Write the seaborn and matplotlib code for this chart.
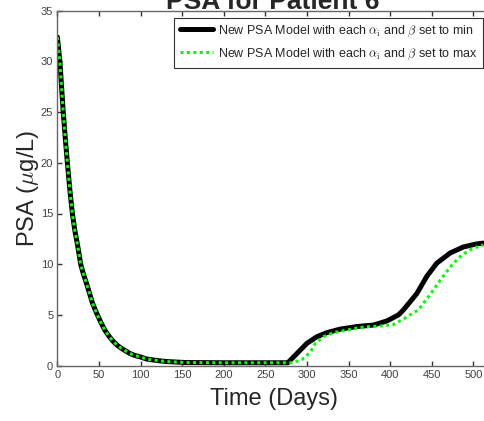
import numpy as np
import pandas as pd
import matplotlib
matplotlib.use("Agg")
import matplotlib.pyplot as plt
import seaborn as sns

# --- values ------------------------------------------------------------------
decay_t = [0, 1.5, 3, 5, 7, 9.5, 12, 15, 18, 21, 24, 28, 31, 35, 38, 42, 47,
           52, 57, 62, 67, 72, 77, 82, 87, 93, 100, 107, 120, 131, 155, 200, 250]
decay_v = [32.4, 31.2, 30.0, 27.5, 25.0, 22.4, 20.0, 17.3, 15.0, 13.3, 12.0,
           10.0, 9.1, 8.1, 7.3, 6.2, 5.2, 4.3, 3.5, 2.9, 2.4, 2.0, 1.7, 1.45,
           1.2, 1.0, 0.85, 0.65, 0.5, 0.4, 0.3, 0.28, 0.28]

min_t = [277, 288, 300, 312, 324, 340, 360, 380, 396, 410, 416, 432, 444, 456,
         472, 488, 504, 514]
min_v = [0.28, 1.2, 2.2, 2.85, 3.25, 3.6, 3.85, 4.0, 4.4, 5.0, 5.5, 7.1, 8.8,
         10.1, 11.1, 11.7, 12.0, 12.1]

max_t = [282, 294, 304, 310, 320, 332, 348, 368, 388, 404, 418, 434, 448, 460,
         474, 486, 498, 512]
max_v = [0.28, 0.6, 1.3, 2.2, 2.85, 3.25, 3.5, 3.8, 3.9, 4.05, 4.7, 5.5, 7.0,
         8.4, 9.9, 10.9, 11.5, 11.9]

labels = [r"New PSA Model with each $\alpha_{\rm i}$ and $\beta$ set to min",
          r"New PSA Model with each $\alpha_{\rm i}$ and $\beta$ set to max"]
title = "PSA for Patient 6"
xticks = list(range(0, 501, 50))
yticks = list(range(0, 36, 5))

# --- figure -------------------------------------------------------------------
sns.set_theme(style="ticks")
plt.rcParams["font.family"] = ["Liberation Sans", "DejaVu Sans"]
plt.rcParams["mathtext.fontset"] = "cm"

lo = pd.DataFrame({"t": decay_t + min_t, "psa": decay_v + min_v})
hi = pd.DataFrame({"t": decay_t + max_t, "psa": decay_v + max_v})

fig = plt.figure(figsize=(4.85, 4.21), dpi=100)
ax = fig.add_axes([57.4 / 485, 55.4 / 421, 432.6 / 485, 354.9 / 421])

sns.lineplot(data=lo, x="t", y="psa", ax=ax, color="black", linewidth=3.6,
             label=labels[0], sort=False)
sns.lineplot(data=hi, x="t", y="psa", ax=ax, color="#00ff00", linewidth=2.2,
             label=labels[1], sort=False)
ax.lines[1].set_dashes([1.0, 1.1])

ax.set_xlim(0, 520)
ax.set_ylim(0, 35)
ax.set_xticks(xticks)
ax.set_yticks(yticks)
ax.tick_params(direction="in", top=True, right=True, bottom=True, left=True,
               length=3.5, width=1.0, labelsize=8, color="0.2",
               labelcolor="0.25", pad=3)
for s in ax.spines.values():
    s.set_color("0.4")
    s.set_linewidth(1.0)

ax.set_xlabel("Time (Days)", fontsize=17, color="0.15", labelpad=6)
ax.set_ylabel(r"PSA ($\mu$g/L)", fontsize=17, color="0.15", labelpad=0)
fig.text(0.563, 1 - 9 / 421, title, fontsize=19, fontweight="bold",
         ha="center", va="baseline")

leg = ax.legend(loc="upper right", bbox_to_anchor=(483 / 485, 1 - 18 / 421),
                bbox_transform=fig.transFigure, fontsize=9, frameon=True,
                fancybox=False, edgecolor="black", handlelength=2.6,
                borderpad=0.45, labelspacing=0.6, handletextpad=0.4,
                borderaxespad=0)
leg.get_frame().set_linewidth(0.8)

fig.savefig("out.png", dpi=100, facecolor="white")
